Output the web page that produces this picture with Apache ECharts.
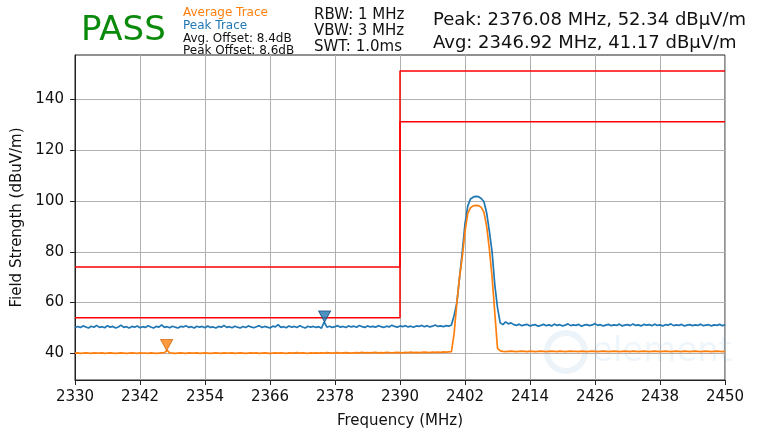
<!DOCTYPE html>
<html>
<head>
<meta charset="utf-8">
<script src="https://cdn.jsdelivr.net/npm/echarts@6/dist/echarts.min.js"></script>
<style>
html,body{margin:0;padding:0;background:#fff;}
#chart{width:759px;height:433px;}
</style>
</head>
<body>
<div id="chart"></div>
<script>
// ---- data ----
const START_FREQ = 2330;   // MHz, first sample
const STEP_FREQ = 0.5;     // MHz between samples

const peakTrace = [
  50.1, 50.6, 50.2, 50.8, 50.4, 50.0, 50.7, 50.3, 51.0, 50.2,
  50.5, 50.1, 50.9, 50.3, 50.6, 50.0, 50.4, 51.1, 50.2, 50.5,
  50.0, 50.6, 50.3, 50.8, 50.1, 50.5, 50.2, 50.9, 50.4, 50.0,
  50.6, 50.3, 51.2, 50.2, 50.5, 50.1, 50.7, 50.3, 50.0, 50.6,
  50.4, 50.9, 50.2, 50.5, 50.0, 50.7, 50.3, 50.6, 50.1, 50.8,
  50.2, 50.4, 50.0, 50.6, 50.3, 51.0, 50.2, 50.5, 50.1, 50.7,
  50.3, 50.0, 50.6, 50.2, 50.8, 50.4, 50.1, 50.5, 50.9, 50.2,
  50.6, 50.3, 50.0, 50.7, 50.4, 51.3, 50.2, 50.5, 50.1, 50.8,
  50.3, 50.6, 50.2, 50.9, 50.4, 50.0, 50.7, 50.3, 50.6, 50.2,
  50.5, 49.9, 52.34, 50.3, 50.7, 50.2, 50.5, 50.9, 50.3, 50.6,
  50.2, 50.8, 50.4, 50.7, 50.3, 51.0, 50.5, 50.2, 50.8, 50.4,
  50.6, 50.3, 50.9, 50.5, 50.2, 50.7, 50.4, 51.1, 50.6, 50.3,
  50.8, 50.5, 50.9, 50.4, 50.7, 50.3, 50.8, 50.6, 51.0, 50.5,
  50.9, 50.4, 50.7, 51.2, 50.6, 50.8, 50.5, 50.9, 50.7,
  51.2, 55, 60, 70, 80, 91, 98, 100.8, 101.5, 101.8,
  101.7, 101.0, 99.7, 95.3, 88, 80, 67, 58, 52, 51.3,
  52.4, 51.6, 52.0, 51.3, 51.0, 51.5, 50.9, 51.2, 51.4, 50.8,
  51.1, 51.3, 50.7, 51.0, 51.4, 50.9, 51.2, 50.8, 51.5, 51.0,
  51.3, 50.8, 51.1, 51.6, 50.9, 51.2, 51.0, 51.4, 50.7, 51.1,
  51.3, 50.9, 51.2, 51.7, 51.0, 51.3, 50.8, 51.1, 51.4, 50.9,
  51.2, 51.0, 51.5, 50.8, 51.1, 51.3, 50.9, 51.6, 51.0, 51.2,
  50.8, 51.4, 51.1, 51.3, 50.9, 51.5, 51.0, 51.2, 50.8, 51.3,
  51.1, 51.6, 50.9, 51.2, 51.0, 51.4, 50.8, 51.1, 51.3, 50.9,
  51.2, 51.0, 51.5, 50.9, 51.1, 51.3, 50.8, 51.2, 51.0, 51.4,
  50.9, 51.2
];

const avgTrace = [
  40.1, 40.2, 40.0, 40.1, 40.2, 40.1, 40.0, 40.2, 40.1, 40.1,
  40.2, 40.0, 40.1, 40.2, 40.1, 40.0, 40.1, 40.2, 40.1, 40.0,
  40.1, 40.2, 40.1, 40.0, 40.2, 40.1, 40.1, 40.0, 40.2, 40.1,
  40.0, 40.1, 40.2, 40.3, 41.17, 40.2, 40.1, 40.0, 40.1, 40.2,
  40.1, 40.0, 40.2, 40.1, 40.1, 40.2, 40.0, 40.1, 40.2, 40.1,
  40.0, 40.1, 40.2, 40.1, 40.0, 40.2, 40.1, 40.1, 40.2, 40.0,
  40.1, 40.2, 40.1, 40.0, 40.1, 40.2, 40.1, 40.2, 40.0, 40.1,
  40.2, 40.1, 40.0, 40.1, 40.2, 40.1, 40.2, 40.1, 40.0, 40.2,
  40.1, 40.2, 40.3, 40.1, 40.2, 40.1, 40.0, 40.2, 40.1, 40.2,
  40.1, 40.2, 40.1, 40.3, 40.2, 40.1, 40.2, 40.3, 40.1, 40.2,
  40.3, 40.2, 40.1, 40.2, 40.3, 40.2, 40.4, 40.2, 40.3, 40.2,
  40.3, 40.4, 40.2, 40.3, 40.2, 40.4, 40.3, 40.2, 40.3, 40.4,
  40.3, 40.2, 40.4, 40.3, 40.5, 40.3, 40.4, 40.3, 40.4, 40.5,
  40.4, 40.3, 40.5, 40.4, 40.5, 40.4, 40.6, 40.5, 40.6,
  40.7, 48, 60, 70, 78, 88, 95, 97.3, 98.1, 98.3,
  98.2, 97.5, 95.5, 90, 81, 70, 56, 42, 41, 40.8,
  40.7, 40.8, 40.9, 40.8, 40.7, 40.8, 40.9, 40.8, 40.7, 40.9,
  40.8, 40.7, 40.8, 40.9, 40.8, 40.7, 40.8, 40.9, 40.8, 40.7,
  40.9, 40.8, 40.7, 40.8, 40.9, 40.8, 40.8, 40.7, 40.9, 40.8,
  40.7, 40.8, 40.9, 40.8, 40.7, 40.8, 40.9, 40.8, 40.7, 40.8,
  40.9, 40.8, 40.7, 40.8, 40.9, 40.8, 40.7, 40.9, 40.8, 40.7,
  40.8, 40.9, 40.8, 40.7, 40.8, 40.9, 40.8, 40.7, 40.8, 40.9,
  40.8, 40.7, 40.8, 40.9, 40.8, 40.7, 40.9, 40.8, 40.7, 40.8,
  40.9, 40.8, 40.7, 40.8, 40.9, 40.8, 40.7, 40.8, 40.9, 40.8,
  40.7, 40.8
];

// limit lines (step outlines): [freq, level]
const avgLimit  = [[2330, 54], [2390, 54], [2390, 131.2], [2450, 131.2]];
const peakLimit = [[2330, 74], [2390, 74], [2390, 151.2], [2450, 151.2]];

// markers (from header readout)
const peakMarker = [2376.08, 52.34];
const avgMarker  = [2346.92, 41.17];

const xTicks = [2330, 2342, 2354, 2366, 2378, 2390, 2402, 2414, 2426, 2438, 2450];
const yTicks = [40, 60, 80, 100, 120, 140];

// ---- build ----
const toPairs = arr => arr.map((v, i) => [START_FREQ + i * STEP_FREQ, v]);
const FONT = 'DejaVu Sans';

const chart = echarts.init(document.getElementById('chart'), null, {renderer: 'canvas'});
chart.setOption({
  animation: false,
  backgroundColor: '#ffffff',
  textStyle: {fontFamily: FONT},
  grid: {left: 75, right: 34, top: 55, bottom: 53, containLabel: false, outerBoundsMode: 'none',
         show: true, borderColor: '#222', borderWidth: 1, backgroundColor: 'transparent'},
  xAxis: {
    type: 'value', min: 2330, max: 2450,
    name: 'Frequency (MHz)', nameLocation: 'middle', nameGap: 34,
    nameTextStyle: {fontFamily: FONT, fontSize: 15, color: '#111'},
    axisLine: {show: true, onZero: false, lineStyle: {color: '#222', width: 1}},
    axisTick: {show: true, length: 5, inside: false, customValues: xTicks, lineStyle: {color: '#222'}},
    axisLabel: {customValues: xTicks, formatter: v => String(v), fontFamily: FONT, fontSize: 15, color: '#111', margin: 10},
    splitLine: {show: true, lineStyle: {color: '#b0b0b0', width: 1}}
  },
  yAxis: {
    type: 'value', min: 29.5, max: 157.5,
    name: 'Field Strength (dBuV/m)', nameLocation: 'middle', nameGap: 48, nameRotate: 90,
    nameTextStyle: {fontFamily: FONT, fontSize: 15, color: '#111'},
    axisLine: {show: true, onZero: false, lineStyle: {color: '#222', width: 1}},
    axisTick: {show: true, length: 5, inside: false, customValues: yTicks, lineStyle: {color: '#222'}},
    axisLabel: {customValues: yTicks, formatter: v => String(v), fontFamily: FONT, fontSize: 15, color: '#111', margin: 11},
    splitLine: {show: true, lineStyle: {color: '#b0b0b0', width: 1}}
  },
  series: [
    {type: 'line', name: 'Peak Trace', data: toPairs(peakTrace), showSymbol: false, symbol: 'none',
     lineStyle: {color: '#1f77b4', width: 1.7}, z: 3},
    {type: 'line', name: 'Average Trace', data: toPairs(avgTrace), showSymbol: false, symbol: 'none',
     lineStyle: {color: '#ff7f0e', width: 1.7}, z: 3},
    {type: 'line', name: 'Avg Limit', data: avgLimit, showSymbol: false, symbol: 'none',
     lineStyle: {color: '#ff0000', width: 1.5}, z: 4},
    {type: 'line', name: 'Peak Limit', data: peakLimit, showSymbol: false, symbol: 'none',
     lineStyle: {color: '#ff0000', width: 1.5}, z: 4},
    {type: 'scatter', data: [peakMarker], symbol: 'triangle', symbolRotate: 180, symbolSize: [12, 11],
     symbolOffset: [0, '-50%'], itemStyle: {color: '#1f77b4', borderColor: '#15507a', borderWidth: 1}, z: 6},
    {type: 'scatter', data: [avgMarker], symbol: 'triangle', symbolRotate: 180, symbolSize: [12, 11],
     symbolOffset: [0, '-50%'], itemStyle: {color: '#ff7f0e', borderColor: '#d0650a', borderWidth: 1}, z: 6}
  ],
  graphic: [
    {type: 'text', left: 81, top: 14, z: 10, style: {text: 'PASS', fontFamily: FONT, fontSize: 34, fill: '#0a8a0a'}},
    {type: 'text', x: 183, y: 13, z: 10, style: {text: 'Average Trace', fontFamily: FONT, fontSize: 12, fill: '#ff7f0e', verticalAlign: 'middle'}},
    {type: 'text', x: 183, y: 26, z: 10, style: {text: 'Peak Trace', fontFamily: FONT, fontSize: 12, fill: '#1f77b4', verticalAlign: 'middle'}},
    {type: 'text', x: 183, y: 39, z: 10, style: {text: 'Avg. Offset: 8.4dB', fontFamily: FONT, fontSize: 12, fill: '#111', verticalAlign: 'middle'}},
    {type: 'text', x: 183, y: 51, z: 10, style: {text: 'Peak Offset: 8.6dB', fontFamily: FONT, fontSize: 12, fill: '#111', verticalAlign: 'middle'}},
    {type: 'text', x: 314, y: 15, z: 10, style: {text: 'RBW: 1 MHz', fontFamily: FONT, fontSize: 15, fill: '#111', verticalAlign: 'middle'}},
    {type: 'text', x: 314, y: 31, z: 10, style: {text: 'VBW: 3 MHz', fontFamily: FONT, fontSize: 15, fill: '#111', verticalAlign: 'middle'}},
    {type: 'text', x: 314, y: 47, z: 10, style: {text: 'SWT: 1.0ms', fontFamily: FONT, fontSize: 15, fill: '#111', verticalAlign: 'middle'}},
    {type: 'text', x: 433, y: 20, z: 10, style: {text: 'Peak: ' + peakMarker[0].toFixed(2) + ' MHz, ' + peakMarker[1].toFixed(2) + ' dBµV/m', fontFamily: FONT, fontSize: 18, fill: '#111', verticalAlign: 'middle'}},
    {type: 'text', x: 433, y: 43, z: 10, style: {text: 'Avg: ' + avgMarker[0].toFixed(2) + ' MHz, ' + avgMarker[1].toFixed(2) + ' dBµV/m', fontFamily: FONT, fontSize: 18, fill: '#111', verticalAlign: 'middle'}},
    // faint watermark
    {type: 'circle', shape: {cx: 566, cy: 352, r: 19}, z: 0, style: {fill: 'none', stroke: 'rgba(120,180,220,0.14)', lineWidth: 6}},
    {type: 'text', x: 592, y: 352, z: 0, style: {text: 'element', fontFamily: FONT, fontSize: 34, fill: 'rgba(120,180,220,0.12)', verticalAlign: 'middle'}}
  ]
});
</script>
</body>
</html>
